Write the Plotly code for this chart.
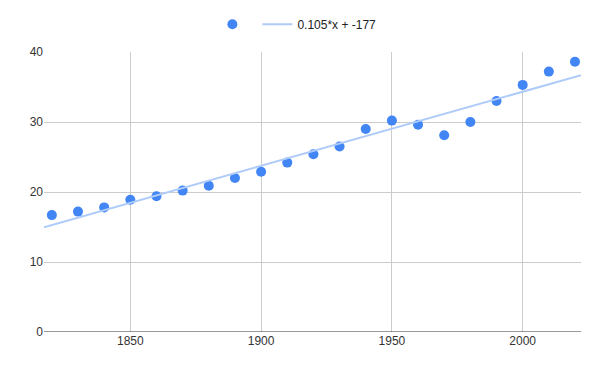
import numpy as np
import plotly.graph_objects as go

years = [1820, 1830, 1840, 1850, 1860, 1870, 1880, 1890, 1900, 1910, 1920,
         1930, 1940, 1950, 1960, 1970, 1980, 1990, 2000, 2010, 2020]
values = [16.7, 17.2, 17.8, 18.9, 19.4, 20.2, 20.9, 22.0, 22.9, 24.2, 25.4,
          26.5, 29.0, 30.2, 29.6, 28.1, 30.0, 33.0, 35.3, 37.2, 38.6]
trend_label = "0.105*x + -177"
x_range = [1817, 2022.3]
y_ticks = [0, 10, 20, 30, 40]
x_ticks = [1850, 1900, 1950, 2000]

slope, intercept = np.polyfit(years, values, 1)
tx = np.array(x_range)
ty = slope * tx + intercept

fig = go.Figure()
fig.add_trace(go.Scatter(x=years, y=values, mode="markers", name="",
                         marker=dict(color="#4285F4", size=10)))
fig.add_trace(go.Scatter(x=tx, y=ty, mode="lines", name=trend_label,
                         line=dict(color="#AECBFA", width=2)))

fig.update_layout(
    width=592, height=363,
    margin=dict(l=36, r=19, t=44, b=39, autoexpand=False),
    paper_bgcolor="white", plot_bgcolor="white",
    font=dict(family="Arial, Liberation Sans, sans-serif", size=12, color="#333"),
    showlegend=True,
    legend=dict(orientation="h", x=0.488, xref="container", xanchor="center",
                y=0.995, yanchor="top", yref="container",
                font=dict(size=12, color="#222"),
                itemwidth=30, tracegroupgap=0),
    xaxis=dict(range=x_range, tickvals=x_ticks, showgrid=True, gridcolor="#CCCCCC",
               zeroline=False, showline=False, ticks="", fixedrange=True),
    yaxis=dict(range=[0, 40], tickvals=y_ticks, showgrid=True, gridcolor="#CCCCCC",
               zeroline=False, ticks="", showline=False),
)
fig.add_shape(type="line", xref="paper", yref="y", x0=0, x1=1, y0=0, y1=0,
              line=dict(color="#333333", width=1))
fig.write_html("out.html")
